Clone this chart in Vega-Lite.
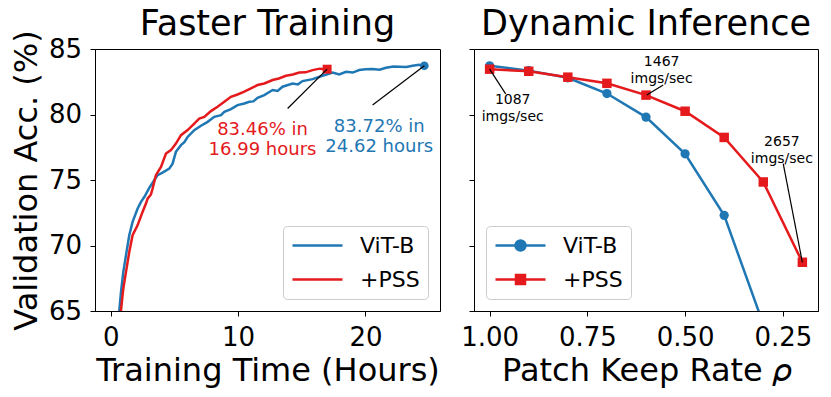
{
  "$schema": "https://vega.github.io/schema/vega-lite/v6.json",
  "background": "white",
  "padding": {"left": 9, "top": 6, "right": 5, "bottom": 5},
  "bounds": "flush",
  "spacing": 34,
  "config": {
    "font": "DejaVu Sans",
    "view": {"stroke": "black", "strokeWidth": 1},
    "axis": {"domainColor": "black", "tickColor": "black", "tickSize": 5, "labelFontSize": 26, "labelColor": "black", "titleFontSize": 32, "titleFontWeight": "normal", "titleColor": "black", "grid": false, "labelPadding": 8.5, "titlePadding": 5, "labelFont": "DejaVu Sans", "titleFont": "DejaVu Sans"},
    "title": {"fontSize": 35, "fontWeight": "normal", "font": "DejaVu Sans", "color": "black", "baseline": "alphabetic"}
  },
  "datasets": {
    "train": [
      {"series": "ViT-B", "x": 0.4, "y": 60.5},
      {"series": "ViT-B", "x": 0.675, "y": 65.04},
      {"series": "ViT-B", "x": 0.81, "y": 66.44},
      {"series": "ViT-B", "x": 0.99, "y": 67.97},
      {"series": "ViT-B", "x": 1.2, "y": 69.25},
      {"series": "ViT-B", "x": 1.46, "y": 70.78},
      {"series": "ViT-B", "x": 1.72, "y": 71.8},
      {"series": "ViT-B", "x": 2.11, "y": 72.81},
      {"series": "ViT-B", "x": 2.38, "y": 73.33},
      {"series": "ViT-B", "x": 2.64, "y": 73.7},
      {"series": "ViT-B", "x": 3.03, "y": 74.4},
      {"series": "ViT-B", "x": 3.42, "y": 74.98},
      {"series": "ViT-B", "x": 3.68, "y": 75.37},
      {"series": "ViT-B", "x": 4.07, "y": 75.57},
      {"series": "ViT-B", "x": 4.6, "y": 75.87},
      {"series": "ViT-B", "x": 4.86, "y": 76.25},
      {"series": "ViT-B", "x": 5.12, "y": 77.15},
      {"series": "ViT-B", "x": 5.52, "y": 77.66},
      {"series": "ViT-B", "x": 5.8, "y": 77.9},
      {"series": "ViT-B", "x": 6.04, "y": 78.29},
      {"series": "ViT-B", "x": 6.56, "y": 78.8},
      {"series": "ViT-B", "x": 7.09, "y": 79.14},
      {"series": "ViT-B", "x": 7.61, "y": 79.44},
      {"series": "ViT-B", "x": 8.13, "y": 79.82},
      {"series": "ViT-B", "x": 8.66, "y": 79.95},
      {"series": "ViT-B", "x": 8.92, "y": 80.2},
      {"series": "ViT-B", "x": 9.44, "y": 80.41},
      {"series": "ViT-B", "x": 9.96, "y": 80.72},
      {"series": "ViT-B", "x": 10.49, "y": 80.84},
      {"series": "ViT-B", "x": 10.88, "y": 80.97},
      {"series": "ViT-B", "x": 11.2, "y": 81.0},
      {"series": "ViT-B", "x": 11.53, "y": 81.28},
      {"series": "ViT-B", "x": 12.06, "y": 81.48},
      {"series": "ViT-B", "x": 12.71, "y": 81.87},
      {"series": "ViT-B", "x": 13.1, "y": 81.8},
      {"series": "ViT-B", "x": 13.49, "y": 82.12},
      {"series": "ViT-B", "x": 14.28, "y": 82.37},
      {"series": "ViT-B", "x": 14.7, "y": 82.3},
      {"series": "ViT-B", "x": 15.06, "y": 82.55},
      {"series": "ViT-B", "x": 15.85, "y": 82.7},
      {"series": "ViT-B", "x": 16.63, "y": 82.96},
      {"series": "ViT-B", "x": 17.42, "y": 83.21},
      {"series": "ViT-B", "x": 17.94, "y": 83.06},
      {"series": "ViT-B", "x": 18.47, "y": 83.26},
      {"series": "ViT-B", "x": 19.0, "y": 83.2},
      {"series": "ViT-B", "x": 19.51, "y": 83.39},
      {"series": "ViT-B", "x": 20.0, "y": 83.45},
      {"series": "ViT-B", "x": 20.56, "y": 83.47},
      {"series": "ViT-B", "x": 21.1, "y": 83.42},
      {"series": "ViT-B", "x": 21.61, "y": 83.57},
      {"series": "ViT-B", "x": 22.2, "y": 83.66},
      {"series": "ViT-B", "x": 22.65, "y": 83.65},
      {"series": "ViT-B", "x": 23.2, "y": 83.62},
      {"series": "ViT-B", "x": 23.7, "y": 83.72},
      {"series": "ViT-B", "x": 24.2, "y": 83.8},
      {"series": "ViT-B", "x": 24.62, "y": 83.72},
      {"series": "+PSS", "x": 0.55, "y": 61.0},
      {"series": "+PSS", "x": 0.81, "y": 65.04},
      {"series": "+PSS", "x": 0.99, "y": 66.7},
      {"series": "+PSS", "x": 1.2, "y": 67.97},
      {"series": "+PSS", "x": 1.46, "y": 69.5},
      {"series": "+PSS", "x": 1.72, "y": 70.78},
      {"series": "+PSS", "x": 2.11, "y": 71.54},
      {"series": "+PSS", "x": 2.5, "y": 72.56},
      {"series": "+PSS", "x": 2.77, "y": 73.2},
      {"series": "+PSS", "x": 2.9, "y": 73.58},
      {"series": "+PSS", "x": 3.16, "y": 73.9},
      {"series": "+PSS", "x": 3.29, "y": 74.34},
      {"series": "+PSS", "x": 3.55, "y": 75.37},
      {"series": "+PSS", "x": 3.95, "y": 76.0},
      {"series": "+PSS", "x": 4.34, "y": 77.02},
      {"series": "+PSS", "x": 4.73, "y": 77.28},
      {"series": "+PSS", "x": 5.12, "y": 77.78},
      {"series": "+PSS", "x": 5.52, "y": 78.42},
      {"series": "+PSS", "x": 6.04, "y": 78.81},
      {"series": "+PSS", "x": 6.56, "y": 79.31},
      {"series": "+PSS", "x": 6.95, "y": 79.69},
      {"series": "+PSS", "x": 7.35, "y": 79.82},
      {"series": "+PSS", "x": 7.87, "y": 80.26},
      {"series": "+PSS", "x": 8.39, "y": 80.59},
      {"series": "+PSS", "x": 8.92, "y": 80.97},
      {"series": "+PSS", "x": 9.44, "y": 81.35},
      {"series": "+PSS", "x": 9.96, "y": 81.53},
      {"series": "+PSS", "x": 10.49, "y": 81.74},
      {"series": "+PSS", "x": 11.01, "y": 81.99},
      {"series": "+PSS", "x": 11.53, "y": 82.25},
      {"series": "+PSS", "x": 12.06, "y": 82.37},
      {"series": "+PSS", "x": 12.71, "y": 82.63},
      {"series": "+PSS", "x": 13.2, "y": 82.75},
      {"series": "+PSS", "x": 13.76, "y": 82.96},
      {"series": "+PSS", "x": 14.3, "y": 83.05},
      {"series": "+PSS", "x": 14.8, "y": 83.21},
      {"series": "+PSS", "x": 15.3, "y": 83.22},
      {"series": "+PSS", "x": 15.85, "y": 83.39},
      {"series": "+PSS", "x": 16.4, "y": 83.5},
      {"series": "+PSS", "x": 16.99, "y": 83.46}
    ],
    "trainEnds": [
      {"series": "ViT-B", "x": 24.62, "y": 83.72},
      {"series": "+PSS", "x": 16.99, "y": 83.46}
    ],
    "trainRules": [
      {"x": 13.89, "y": 80.46, "x2": 16.99, "y2": 83.46},
      {"x": 20.56, "y": 80.72, "x2": 24.62, "y2": 83.72}
    ],
    "trainText": [
      {"series": "+PSS", "x": 11.92, "y": 78.05, "label": "83.46% in\n16.99 hours"},
      {"series": "ViT-B", "x": 21.08, "y": 78.3, "label": "83.72% in\n24.62 hours"}
    ],
    "infer": [
      {"series": "ViT-B", "x": 1.0, "y": 83.72},
      {"series": "ViT-B", "x": 0.9, "y": 83.35},
      {"series": "ViT-B", "x": 0.8, "y": 82.8},
      {"series": "ViT-B", "x": 0.7, "y": 81.6},
      {"series": "ViT-B", "x": 0.6, "y": 79.8},
      {"series": "ViT-B", "x": 0.5, "y": 77.0},
      {"series": "ViT-B", "x": 0.4, "y": 72.3},
      {"series": "ViT-B", "x": 0.3, "y": 64.0},
      {"series": "+PSS", "x": 1.0, "y": 83.46},
      {"series": "+PSS", "x": 0.9, "y": 83.3},
      {"series": "+PSS", "x": 0.8, "y": 82.85},
      {"series": "+PSS", "x": 0.7, "y": 82.38},
      {"series": "+PSS", "x": 0.6, "y": 81.48},
      {"series": "+PSS", "x": 0.5, "y": 80.25},
      {"series": "+PSS", "x": 0.4, "y": 78.25},
      {"series": "+PSS", "x": 0.3, "y": 74.85},
      {"series": "+PSS", "x": 0.2, "y": 68.72}
    ],
    "inferRules": [
      {"x": 1.0, "y": 83.46, "x2": 0.959, "y2": 81.58},
      {"x": 0.598, "y": 81.48, "x2": 0.556, "y2": 82.25},
      {"x": 0.249, "y": 76.25, "x2": 0.2, "y2": 68.72}
    ],
    "inferText": [
      {"x": 0.941, "y": 80.47, "label": "1087\nimgs/sec"},
      {"x": 0.56, "y": 83.34, "label": "1467\nimgs/sec"},
      {"x": 0.2524, "y": 77.26, "label": "2657\nimgs/sec"}
    ]
  },
  "hconcat": [
    {
      "width": 345,
      "height": 262,
      "title": {"text": "Faster Training", "offset": -12},
      "layer": [
        {
          "data": {"name": "train"},
          "mark": {"type": "line", "strokeWidth": 2.5, "clip": true},
          "encoding": {
            "x": {"field": "x", "type": "quantitative", "scale": {"domain": [-1.23, 25.85], "nice": false, "zero": false}, "axis": {"values": [0, 10, 20], "title": "Training Time (Hours)"}},
            "y": {"field": "y", "type": "quantitative", "scale": {"domain": [65, 85], "nice": false, "zero": false}, "axis": {"values": [65, 70, 75, 80, 85], "title": "Validation Acc. (%)"}},
            "color": {
              "field": "series", "type": "nominal",
              "scale": {"domain": ["ViT-B", "+PSS"], "range": ["#1f77b4", "#e41a1c"]},
              "legend": {
                "title": null, "orient": "bottom-right", "offset": 12, "labelFontSize": 22, "labelColor": "black",
                "symbolType": "M-1,0H4", "symbolSize": 400, "symbolStrokeWidth": 2.5, "labelOffset": 46, "rowPadding": 11, "padding": 8,
                "strokeColor": "#cccccc", "fillColor": "rgba(255,255,255,0.8)", "cornerRadius": 4,
                "encode": {"symbols": {"update": {
                  "shape": {"value": "M-1,0H4"},
                  "stroke": {"signal": "datum.value === 'ViT-B' ? '#1f77b4' : '#e41a1c'"},
                  "fill": {"value": "transparent"},
                  "strokeWidth": {"value": 2.5},
                  "opacity": {"value": 1}
                }}}
              }
            }
          }
        },
        {
          "data": {"name": "trainEnds"},
          "transform": [{"filter": "datum.series === 'ViT-B'"}],
          "mark": {"type": "point", "shape": "circle", "filled": true, "opacity": 1, "size": 75, "clip": true},
          "encoding": {
            "x": {"field": "x", "type": "quantitative"},
            "y": {"field": "y", "type": "quantitative"},
            "color": {"field": "series", "type": "nominal"}
          }
        },
        {
          "data": {"name": "trainEnds"},
          "transform": [{"filter": "datum.series === '+PSS'"}],
          "mark": {"type": "point", "shape": "square", "filled": true, "opacity": 1, "size": 80, "clip": true},
          "encoding": {
            "x": {"field": "x", "type": "quantitative"},
            "y": {"field": "y", "type": "quantitative"},
            "color": {"field": "series", "type": "nominal"}
          }
        },
        {
          "data": {"name": "trainRules"},
          "mark": {"type": "rule", "color": "black", "strokeWidth": 1.2},
          "encoding": {
            "x": {"field": "x", "type": "quantitative"},
            "y": {"field": "y", "type": "quantitative"},
            "x2": {"field": "x2"},
            "y2": {"field": "y2"}
          }
        },
        {
          "data": {"name": "trainText"},
          "mark": {"type": "text", "fontSize": 18, "lineBreak": "\n", "lineHeight": 20, "align": "center", "baseline": "middle", "dy": -10},
          "encoding": {
            "x": {"field": "x", "type": "quantitative"},
            "y": {"field": "y", "type": "quantitative"},
            "text": {"field": "label"},
            "color": {"field": "series", "type": "nominal"}
          }
        }
      ]
    },
    {
      "width": 344,
      "height": 262,
      "title": {"text": "Dynamic Inference", "offset": 7},
      "layer": [
        {
          "data": {"name": "infer"},
          "mark": {"type": "line", "strokeWidth": 2.5, "clip": true},
          "encoding": {
            "x": {"field": "x", "type": "quantitative", "scale": {"domain": [0.16, 1.04], "reverse": true, "nice": false, "zero": false}, "axis": {"values": [1.0, 0.75, 0.5, 0.25], "format": ".2f", "title": "Patch Keep Rate 𝜌"}},
            "y": {"field": "y", "type": "quantitative", "scale": {"domain": [65, 85], "nice": false, "zero": false}, "axis": {"values": [65, 70, 75, 80, 85], "labels": false, "title": null}},
            "color": {
              "field": "series", "type": "nominal",
              "scale": {"domain": ["ViT-B", "+PSS"], "range": ["#1f77b4", "#e41a1c"]},
              "legend": {
                "title": null, "orient": "bottom-left", "offset": 12, "labelFontSize": 22, "labelColor": "black",
                "symbolSize": 400, "symbolStrokeWidth": 2.5, "labelOffset": 46, "rowPadding": 11, "padding": 8,
                "strokeColor": "#cccccc", "fillColor": "rgba(255,255,255,0.8)", "cornerRadius": 4,
                "encode": {"symbols": {"update": {
                  "shape": {"signal": "datum.value === 'ViT-B' ? 'M-1,0H4M2,0A0.5,0.5 0 1,1 1,0A0.5,0.5 0 1,1 2,0Z' : 'M-1,0H4M1.05,-0.45H1.95V0.45H1.05Z'"},
                  "stroke": {"signal": "datum.value === 'ViT-B' ? '#1f77b4' : '#e41a1c'"},
                  "fill": {"signal": "datum.value === 'ViT-B' ? '#1f77b4' : '#e41a1c'"},
                  "strokeWidth": {"value": 2.5},
                  "opacity": {"value": 1}
                }}}
              }
            }
          }
        },
        {
          "data": {"name": "infer"},
          "transform": [{"filter": "datum.series === 'ViT-B'"}],
          "mark": {"type": "point", "shape": "circle", "filled": true, "opacity": 1, "size": 85, "clip": true},
          "encoding": {
            "x": {"field": "x", "type": "quantitative"},
            "y": {"field": "y", "type": "quantitative"},
            "color": {"field": "series", "type": "nominal"}
          }
        },
        {
          "data": {"name": "infer"},
          "transform": [{"filter": "datum.series === '+PSS'"}],
          "mark": {"type": "point", "shape": "square", "filled": true, "opacity": 1, "size": 90, "clip": true},
          "encoding": {
            "x": {"field": "x", "type": "quantitative"},
            "y": {"field": "y", "type": "quantitative"},
            "color": {"field": "series", "type": "nominal"}
          }
        },
        {
          "data": {"name": "inferRules"},
          "mark": {"type": "rule", "color": "black", "strokeWidth": 1.2},
          "encoding": {
            "x": {"field": "x", "type": "quantitative"},
            "y": {"field": "y", "type": "quantitative"},
            "x2": {"field": "x2"},
            "y2": {"field": "y2"}
          }
        },
        {
          "data": {"name": "inferText"},
          "mark": {"type": "text", "fontSize": 14, "lineBreak": "\n", "lineHeight": 17, "align": "center", "baseline": "middle", "dy": -8.5, "color": "black"},
          "encoding": {
            "x": {"field": "x", "type": "quantitative"},
            "y": {"field": "y", "type": "quantitative"},
            "text": {"field": "label"}
          }
        }
      ]
    }
  ],
  "resolve": {
    "scale": {"color": "independent"},
    "legend": {"color": "independent"}
  }
}
